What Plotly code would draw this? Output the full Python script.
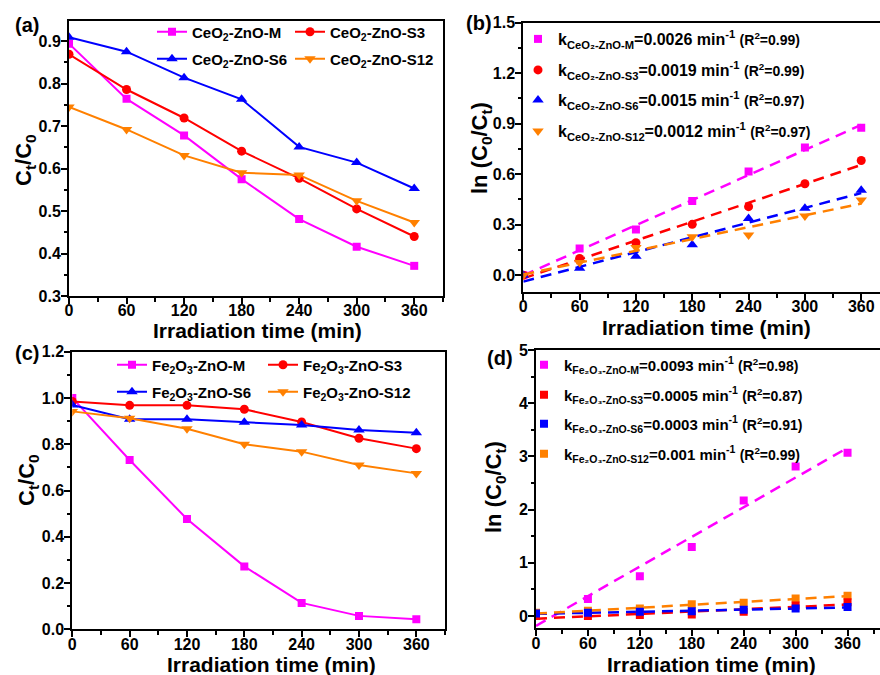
import numpy as np
import plotly.graph_objects as go

# ---------------- data ----------------
time_min = [0, 60, 120, 180, 240, 300, 360]

# (a) CeO2-ZnO : Ct/C0
ce_M = [0.894, 0.764, 0.678, 0.575, 0.481, 0.416, 0.371]
ce_S3 = [0.869, 0.786, 0.719, 0.641, 0.577, 0.505, 0.440]
ce_S6 = [0.909, 0.875, 0.814, 0.763, 0.651, 0.614, 0.553]
ce_S12 = [0.745, 0.692, 0.631, 0.590, 0.585, 0.524, 0.473]

# (b) CeO2-ZnO : ln(C0/Ct)
ce_ln_M = [0.0, 0.158, 0.272, 0.440, 0.616, 0.758, 0.876]
ce_ln_S3 = [0.0, 0.099, 0.193, 0.302, 0.407, 0.543, 0.681]
ce_ln_S6 = [0.0, 0.041, 0.112, 0.180, 0.337, 0.397, 0.505]
ce_ln_S12 = [0.0, 0.075, 0.164, 0.229, 0.239, 0.351, 0.446]

# (c) Fe2O3-ZnO : Ct/C0
fe_M = [1.0, 0.732, 0.477, 0.272, 0.114, 0.058, 0.043]
fe_S3 = [0.985, 0.968, 0.968, 0.951, 0.896, 0.826, 0.781]
fe_S6 = [0.970, 0.908, 0.908, 0.895, 0.883, 0.862, 0.850]
fe_S12 = [0.942, 0.912, 0.867, 0.800, 0.768, 0.710, 0.674]

# (d) Fe2O3-ZnO : ln(C0/Ct)
fe_ln_M = [0.0, 0.32, 0.75, 1.30, 2.17, 2.81, 3.07]
fe_ln_S3 = [0.0, 0.0, 0.02, 0.03, 0.08, 0.20, 0.26]
fe_ln_S6 = [0.05, 0.06, 0.08, 0.09, 0.12, 0.14, 0.17]
fe_ln_S12 = [0.06, 0.10, 0.14, 0.22, 0.25, 0.33, 0.38]

ce_names = ["CeO<sub>2</sub>-ZnO-M", "CeO<sub>2</sub>-ZnO-S3",
            "CeO<sub>2</sub>-ZnO-S6", "CeO<sub>2</sub>-ZnO-S12"]
fe_names = ["Fe<sub>2</sub>O<sub>3</sub>-ZnO-M", "Fe<sub>2</sub>O<sub>3</sub>-ZnO-S3",
            "Fe<sub>2</sub>O<sub>3</sub>-ZnO-S6", "Fe<sub>2</sub>O<sub>3</sub>-ZnO-S12"]
ce_sub = ["CeO₂-ZnO-M", "CeO₂-ZnO-S3", "CeO₂-ZnO-S6", "CeO₂-ZnO-S12"]
fe_sub = ["Fe₂O₃-ZnO-M", "Fe₂O₃-ZnO-S3", "Fe₂O₃-ZnO-S6", "Fe₂O₃-ZnO-S12"]
ce_k = ["0.0026", "0.0019", "0.0015", "0.0012"]
ce_r2 = ["0.99", "0.99", "0.97", "0.97"]
fe_k = ["0.0093", "0.0005", "0.0003", "0.001"]
fe_r2 = ["0.98", "0.87", "0.91", "0.99"]

tick_x = [0, 60, 120, 180, 240, 300, 360]

# ---------------- styling ----------------
W, H = 880, 675
FONT = "Liberation Sans, Arial, sans-serif"
colors = ["#FF00FF", "#FF0000", "#0000FF", "#FF8000"]
symbols_ac = ["square", "circle", "triangle-up", "triangle-down"]
sizes_ac = [8, 9, 10, 10]


def px(xp):
    return xp / W


def py(yp):
    return 1 - yp / H


fig = go.Figure()

# legend positions (pixel coordinates: left, center-y)
leg_a = [(152, 32), (290, 32), (152, 59), (290, 59)]
leg_c = [(112, 365), (263, 365), (112, 392), (263, 392)]
leg_b = [(518, 39), (518, 70), (518, 100), (518, 131)]
leg_d = [(524, 365), (524, 395), (524, 424), (524, 454)]

legend_layouts = {}
leg_counter = [0]


def new_legend(pos, fsize):
    leg_counter[0] += 1
    n = leg_counter[0]
    name = "legend" if n == 1 else f"legend{n}"
    legend_layouts[name] = dict(
        x=px(pos[0]), y=py(pos[1]), xanchor="left", yanchor="middle",
        xref="paper", yref="paper",
        bgcolor="rgba(0,0,0,0)", borderwidth=0,
        font=dict(family=FONT, size=fsize, color="black", weight="bold"),
    )
    return name


# (a)
ce_series = [ce_M, ce_S3, ce_S6, ce_S12]
for i, ys in enumerate(ce_series):
    fig.add_trace(go.Scatter(
        x=time_min, y=ys, mode="lines+markers", name=ce_names[i],
        line=dict(color=colors[i], width=2),
        marker=dict(symbol=symbols_ac[i], size=sizes_ac[i], color=colors[i]),
        xaxis="x", yaxis="y", legend=new_legend(leg_a[i], 15)))

# (b)
ce_ln = [ce_ln_M, ce_ln_S3, ce_ln_S6, ce_ln_S12]
for i, ys in enumerate(ce_ln):
    p = np.polyfit(time_min, ys, 1)
    fx = [time_min[0], time_min[-1]]
    fig.add_trace(go.Scatter(
        x=fx, y=np.polyval(p, fx), mode="lines", showlegend=False,
        line=dict(color=colors[i], width=2.5, dash="11px,7px"),
        xaxis="x2", yaxis="y2"))
for i, ys in enumerate(ce_ln):
    label = (f"k<sub>{ce_sub[i]}</sub>={ce_k[i]} min<sup>-1</sup> "
             f"<span style='font-size:14px'>(R<sup>2</sup>={ce_r2[i]})</span>")
    fig.add_trace(go.Scatter(
        x=time_min, y=ys, mode="markers", name=label,
        marker=dict(symbol=symbols_ac[i], size=sizes_ac[i], color=colors[i]),
        xaxis="x2", yaxis="y2", legend=new_legend(leg_b[i], 16)))

# (c)
fe_series = [fe_M, fe_S3, fe_S6, fe_S12]
for i, ys in enumerate(fe_series):
    fig.add_trace(go.Scatter(
        x=time_min, y=ys, mode="lines+markers", name=fe_names[i],
        line=dict(color=colors[i], width=2),
        marker=dict(symbol=symbols_ac[i], size=sizes_ac[i], color=colors[i]),
        xaxis="x3", yaxis="y3", legend=new_legend(leg_c[i], 15)))

# (d)
fe_ln = [fe_ln_M, fe_ln_S3, fe_ln_S6, fe_ln_S12]
for i, ys in enumerate(fe_ln):
    p = np.polyfit(time_min, ys, 1)
    fx = [time_min[0], time_min[-1]]
    fig.add_trace(go.Scatter(
        x=fx, y=np.polyval(p, fx), mode="lines", showlegend=False,
        line=dict(color=colors[i], width=2.5, dash="11px,7px"),
        xaxis="x4", yaxis="y4"))
draw_order = [0, 3, 1, 2]
for i in draw_order:
    ys = fe_ln[i]
    label = (f"k<sub>{fe_sub[i]}</sub>={fe_k[i]} min<sup>-1</sup> "
             f"<span style='font-size:14px'>(R<sup>2</sup>={fe_r2[i]})</span>")
    fig.add_trace(go.Scatter(
        x=time_min, y=ys, mode="markers", name=label,
        marker=dict(symbol="square", size=8, color=colors[i]),
        xaxis="x4", yaxis="y4", legend=new_legend(leg_d[i], 15)))


def xaxis_cfg(dom, rng, mirror):
    return dict(domain=dom, range=rng, tickvals=tick_x, ticks="outside",
                ticklen=6, tickwidth=2, tickcolor="black",
                ticklabelstandoff=-7,
                showline=True, linewidth=2, linecolor="black", mirror=mirror,
                showgrid=False, zeroline=False,
                tickfont=dict(size=16, family=FONT, color="black", weight="bold"),
                minor=dict(dtick=30, tick0=0, ticks="outside", ticklen=3.5,
                           tickwidth=2, tickcolor="black", showgrid=False))


def yaxis_cfg(dom, rng, dtick, minor, fmt, mirror):
    return dict(domain=dom, range=rng, dtick=dtick, tick0=0, tickformat=fmt,
                ticks="outside", ticklen=6, tickwidth=2, tickcolor="black",
                ticklabelstandoff=-3,
                showline=True, linewidth=2, linecolor="black", mirror=mirror,
                showgrid=False, zeroline=False,
                tickfont=dict(size=16, family=FONT, color="black", weight="bold"),
                minor=dict(dtick=minor, tick0=0, ticks="outside", ticklen=3.5,
                           tickwidth=2, tickcolor="black", showgrid=False))


layout = dict(
    width=W, height=H,
    margin=dict(l=0, r=0, t=0, b=0, autoexpand=False),
    paper_bgcolor="white", plot_bgcolor="white",
    font=dict(family=FONT, size=16, color="black", weight="bold"),
    xaxis=xaxis_cfg([px(69), px(443)], [0, 390], True),
    yaxis=yaxis_cfg([py(296), py(20.7)], [0.3, 0.948], 0.1, 0.05, ".1f", True),
    xaxis2=xaxis_cfg([px(523.3), 1.0], [0, 380], True),
    yaxis2=yaxis_cfg([py(292), py(22.7)], [-0.1, 1.5], 0.3, 0.15, ".1f", False),
    xaxis3=xaxis_cfg([px(72.3), px(445)], [0, 390], True),
    yaxis3=yaxis_cfg([py(629.3), py(351.7)], [0, 1.2], 0.2, 0.1, ".1f", True),
    xaxis4=xaxis_cfg([px(536), 1.0], [0, 397.5], True),
    yaxis4=yaxis_cfg([py(628.3), py(350)], [-0.23, 5], 1, 0.5, "d", False),
)
layout.update(legend_layouts)
fig.update_layout(**layout)
fig.update_layout(xaxis2=dict(anchor="y2"), yaxis2=dict(anchor="x2"),
                  xaxis3=dict(anchor="y3"), yaxis3=dict(anchor="x3"),
                  xaxis4=dict(anchor="y4"), yaxis4=dict(anchor="x4"))

# annotations: panel labels and axis titles
ann = []
panel_labels = [("(a)", 27, 25), ("(b)", 479, 23), ("(c)", 27, 353), ("(d)", 500, 358)]
for t, x, y in panel_labels:
    ann.append(dict(text=t, x=px(x), y=py(y), xref="paper", yref="paper",
                    showarrow=False, xanchor="center", yanchor="middle",
                    font=dict(size=20, family=FONT, color="black", weight="bold")))
xtitles = [(257, 330), (706, 327), (271, 664), (711, 664)]
for x, y in xtitles:
    ann.append(dict(text="Irradiation time (min)", x=px(x), y=py(y),
                    xref="paper", yref="paper", showarrow=False,
                    xanchor="center", yanchor="middle",
                    font=dict(size=21, family=FONT, color="black", weight="bold")))
ytitles = [("C<sub>t</sub>/C<sub>0</sub>", 25, 160),
           ("ln (C<sub>0</sub>/C<sub>t</sub>)", 481, 148),
           ("C<sub>t</sub>/C<sub>0</sub>", 28, 480),
           ("ln (C<sub>0</sub>/C<sub>t</sub>)", 495, 487)]
for t, x, y in ytitles:
    ann.append(dict(text=t, x=px(x), y=py(y), xref="paper", yref="paper",
                    showarrow=False, xanchor="center", yanchor="middle",
                    textangle=-90,
                    font=dict(size=22, family=FONT, color="black", weight="bold")))
fig.update_layout(annotations=ann)

fig.write_html("out.html",
               config={"displayModeBar": False},
               post_script="document.body.style.margin='0';"
                           "document.body.style.padding='0';")
